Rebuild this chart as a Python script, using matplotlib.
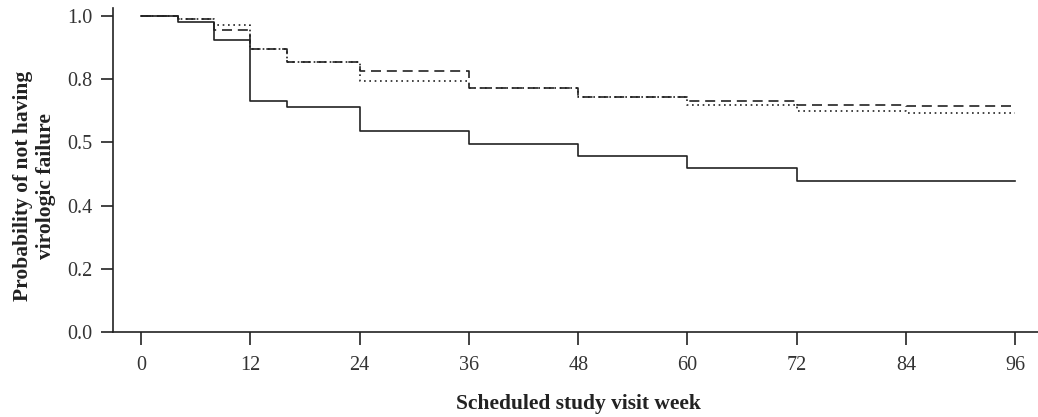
#!/usr/bin/env python3
# Kaplan-Meier style curves: probability of not having virologic failure
import matplotlib
matplotlib.use('Agg')
import matplotlib.pyplot as plt

# study weeks where the curves step
weeks = [0, 4, 8, 12, 16, 24, 36, 48, 60, 72, 84, 96]

# survival estimates
solid_surv = [1.0, 0.980, 0.923, 0.731, 0.711, 0.635, 0.595, 0.557, 0.518, 0.478, 0.478, 0.478]
dashed_surv = [1.0, 0.990, 0.956, 0.895, 0.854, 0.826, 0.771, 0.745, 0.732, 0.719, 0.714, 0.714]
dotted_surv = [1.0, 0.990, 0.972, 0.895, 0.854, 0.795, 0.771, 0.745, 0.717, 0.700, 0.692, 0.692]

x_ticks = [0, 12, 24, 36, 48, 60, 72, 84, 96]
y_ticks = [0.0, 0.2, 0.4, 0.6, 0.8, 1.0]
y_tick_labels = ['0.0', '0.2', '0.4', '0.5', '0.8', '1.0']

plt.rcParams['font.family'] = ['Liberation Serif', 'DejaVu Serif']

fig = plt.figure(figsize=(10.38, 4.17), dpi=100)
ax = fig.add_axes([113 / 1038, 85 / 417, 925 / 1038, 324 / 417])

line_color = '#222222'
ax.step(weeks, solid_surv, where='post', color=line_color, lw=1.2, ls='-')
ax.step(weeks, dashed_surv, where='post', color=line_color, lw=1.2, ls=(0, (6, 3.5)))
ax.step(weeks, dotted_surv, where='post', color=line_color, lw=1.2, ls=(0, (1, 2.2)))

ax.set_xlim(-3.1, 98.5)
ax.set_ylim(0, 1.025)

ax.set_xticks(x_ticks)
ax.set_yticks(y_ticks)
ax.set_yticklabels(y_tick_labels)

ax.spines['top'].set_visible(False)
ax.spines['right'].set_visible(False)
for side in ('left', 'bottom'):
    ax.spines[side].set_color(line_color)
    ax.spines[side].set_linewidth(1.2)

ax.tick_params(axis='y', length=9, width=1.2, pad=5.5, labelsize=14.5, colors=line_color, labelcolor='#333333')
ax.tick_params(axis='x', length=9, width=1.2, pad=8, labelsize=14.5, colors=line_color, labelcolor='#333333')

ax.set_ylabel('Probability of not having\nvirologic failure', fontsize=15.5, fontweight='bold',
              color='#222222')
ax.yaxis.set_label_coords(-0.062, 0.45)
ax.set_xlabel('Scheduled study visit week', fontsize=15.5, fontweight='bold',
              color='#222222')
ax.xaxis.set_label_coords(0.503, -0.19)

fig.savefig('out.png', dpi=100)
